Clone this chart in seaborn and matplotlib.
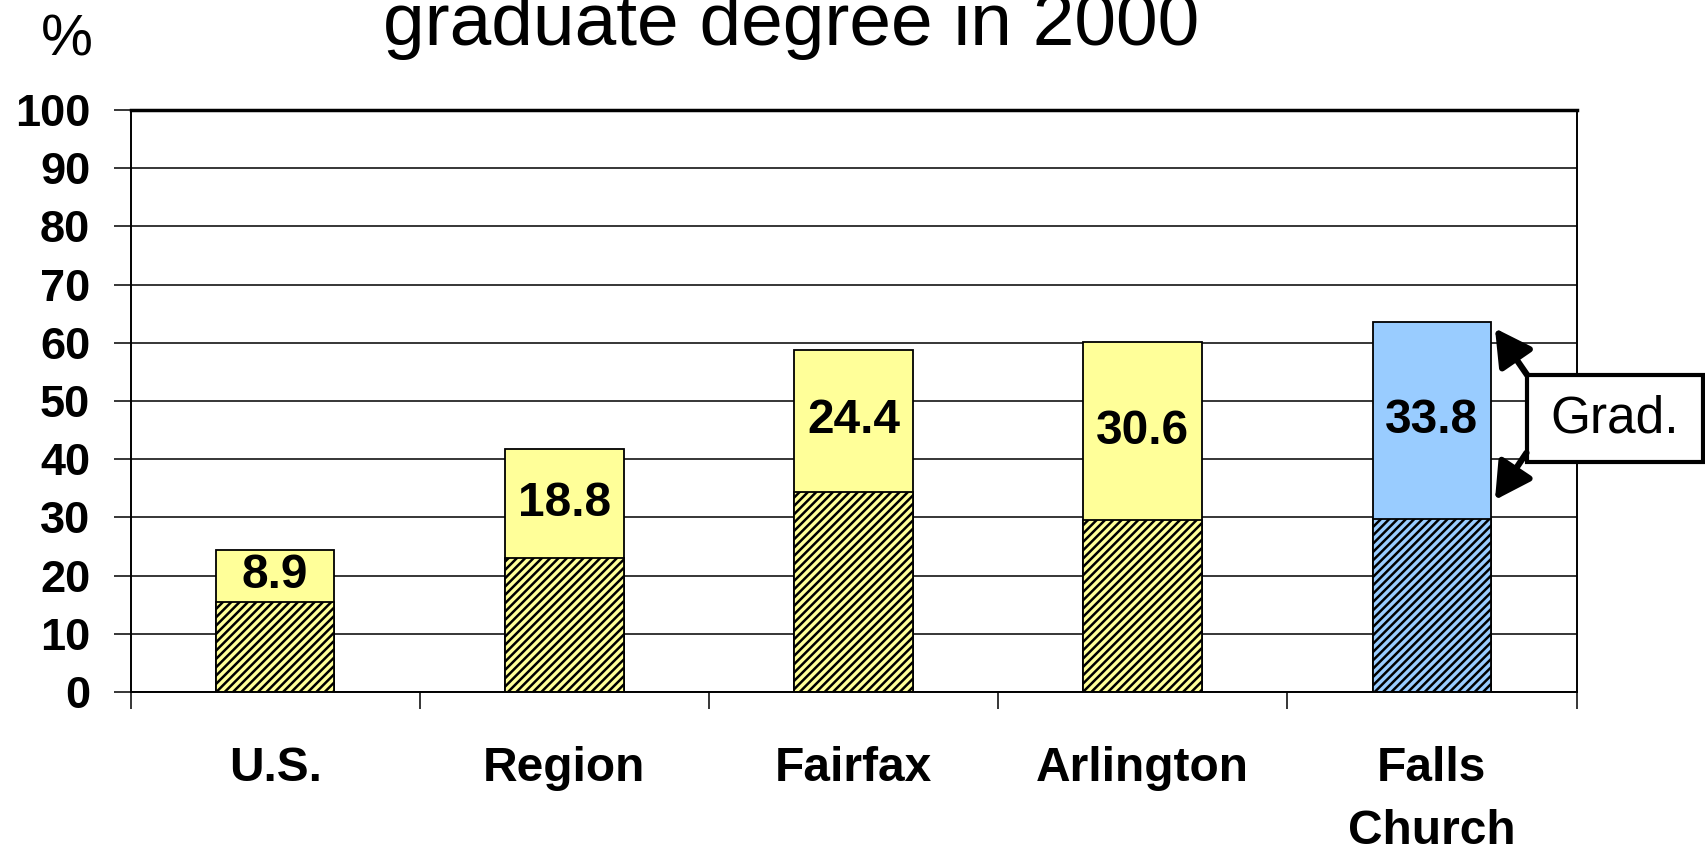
import matplotlib
matplotlib.use("Agg")
import matplotlib.pyplot as plt
from matplotlib.patches import Rectangle
import seaborn as sns
import pandas as pd

# данные
places = ["U.S.", "Region", "Fairfax", "Arlington", "Falls\nChurch"]
bachelor = [15.5, 23.0, 34.4, 29.5, 29.8]
graduate = [8.9, 18.8, 24.4, 30.6, 33.8]
grad_labels = ["8.9", "18.8", "24.4", "30.6", "33.8"]
bar_colors = ["#FFFF99", "#FFFF99", "#FFFF99", "#FFFF99", "#99CCFF"]
y_ticks = [0, 10, 20, 30, 40, 50, 60, 70, 80, 90, 100]

sns.set_style("white")
plt.rcParams["font.family"] = ["Liberation Sans", "DejaVu Sans"]
plt.rcParams["text.color"] = "black"
plt.rcParams["xtick.color"] = "black"
plt.rcParams["ytick.color"] = "black"
plt.rcParams["hatch.linewidth"] = 1.8

df = pd.DataFrame({"place": places, "bach": bachelor, "grad": graduate})
df["total"] = df["bach"] + df["grad"]

fig = plt.figure(figsize=(17.06, 8.47), dpi=100)
ax = fig.add_axes([0.0765, 0.183, 0.8476, 0.687])
ax.set_axisbelow(True)

palette = dict(zip(places, bar_colors))

# верхняя часть (весь столбец), потом нижняя со штриховкой
sns.barplot(data=df, x="place", y="total", hue="place", palette=palette,
            width=0.41, edgecolor="black", linewidth=1.3, legend=False,
            saturation=1, ax=ax)
n_top = len(ax.patches)
sns.barplot(data=df, x="place", y="bach", hue="place", palette=palette,
            width=0.41, edgecolor="black", linewidth=1.3, legend=False,
            saturation=1, ax=ax)
for p in ax.patches[n_top:]:
    p.set_hatch("////")
    p.set_edgecolor("black")

for i in range(len(places)):
    ax.text(i, bachelor[i] + graduate[i] / 2, grad_labels[i], ha="center",
            va="center", fontsize=34.5, fontweight="bold", color="black")

ax.set_xlim(-0.5, 4.5)
ax.set_ylim(0, 100)
ax.set_yticks(y_ticks)
ax.set_yticklabels([str(v) for v in y_ticks], fontsize=32.5, fontweight="bold")
ax.yaxis.grid(True, color="black", linewidth=1.1)
ax.tick_params(axis="y", which="major", direction="out", length=12,
               width=1.1, color="black", labelcolor="black", pad=17, left=True)

ax.set_xticks(range(len(places)))
ax.set_xticklabels(places, fontsize=34.5, fontweight="bold", linespacing=1.5)
ax.set_xticks([i - 0.5 for i in range(len(places) + 1)], minor=True)
ax.tick_params(axis="x", which="major", length=0, pad=39, labelcolor="black")
ax.tick_params(axis="x", which="minor", direction="out", length=12,
               width=1.1, color="black", bottom=True)
ax.set_xlabel("")
ax.set_ylabel("")

for side in ["left", "right", "bottom"]:
    ax.spines[side].set_color("black")
    ax.spines[side].set_linewidth(1.4)
ax.spines["top"].set_color("black")
ax.spines["top"].set_linewidth(2.5)

# подпись Grad. со стрелками
ax.add_patch(Rectangle((4.329, 39.5), 0.608, 15.0, facecolor="white",
                       edgecolor="black", linewidth=3, clip_on=False, zorder=5))
ax.text(4.633, 47, "Grad.", ha="center", va="center", fontsize=37, zorder=6,
        clip_on=False, color="black")
arrow = dict(arrowstyle="-|>,head_length=1.0,head_width=0.55", lw=4.5,
             color="black", shrinkA=0, shrinkB=0, mutation_scale=22)
ax.annotate("", xy=(4.218, 62.5), xytext=(4.329, 54.5), arrowprops=arrow,
            annotation_clip=False, zorder=6)
ax.annotate("", xy=(4.218, 33.0), xytext=(4.327, 41.1), arrowprops=arrow,
            annotation_clip=False, zorder=6)

fig.text(0.464, 1 - 45 / 847, "graduate degree in 2000", ha="center",
         va="baseline", fontsize=54, color="black")
fig.text(67 / 1706, 1 - 55 / 847, "%", ha="center", va="baseline", fontsize=42,
         color="black")

fig.savefig("out.png", dpi=100)
